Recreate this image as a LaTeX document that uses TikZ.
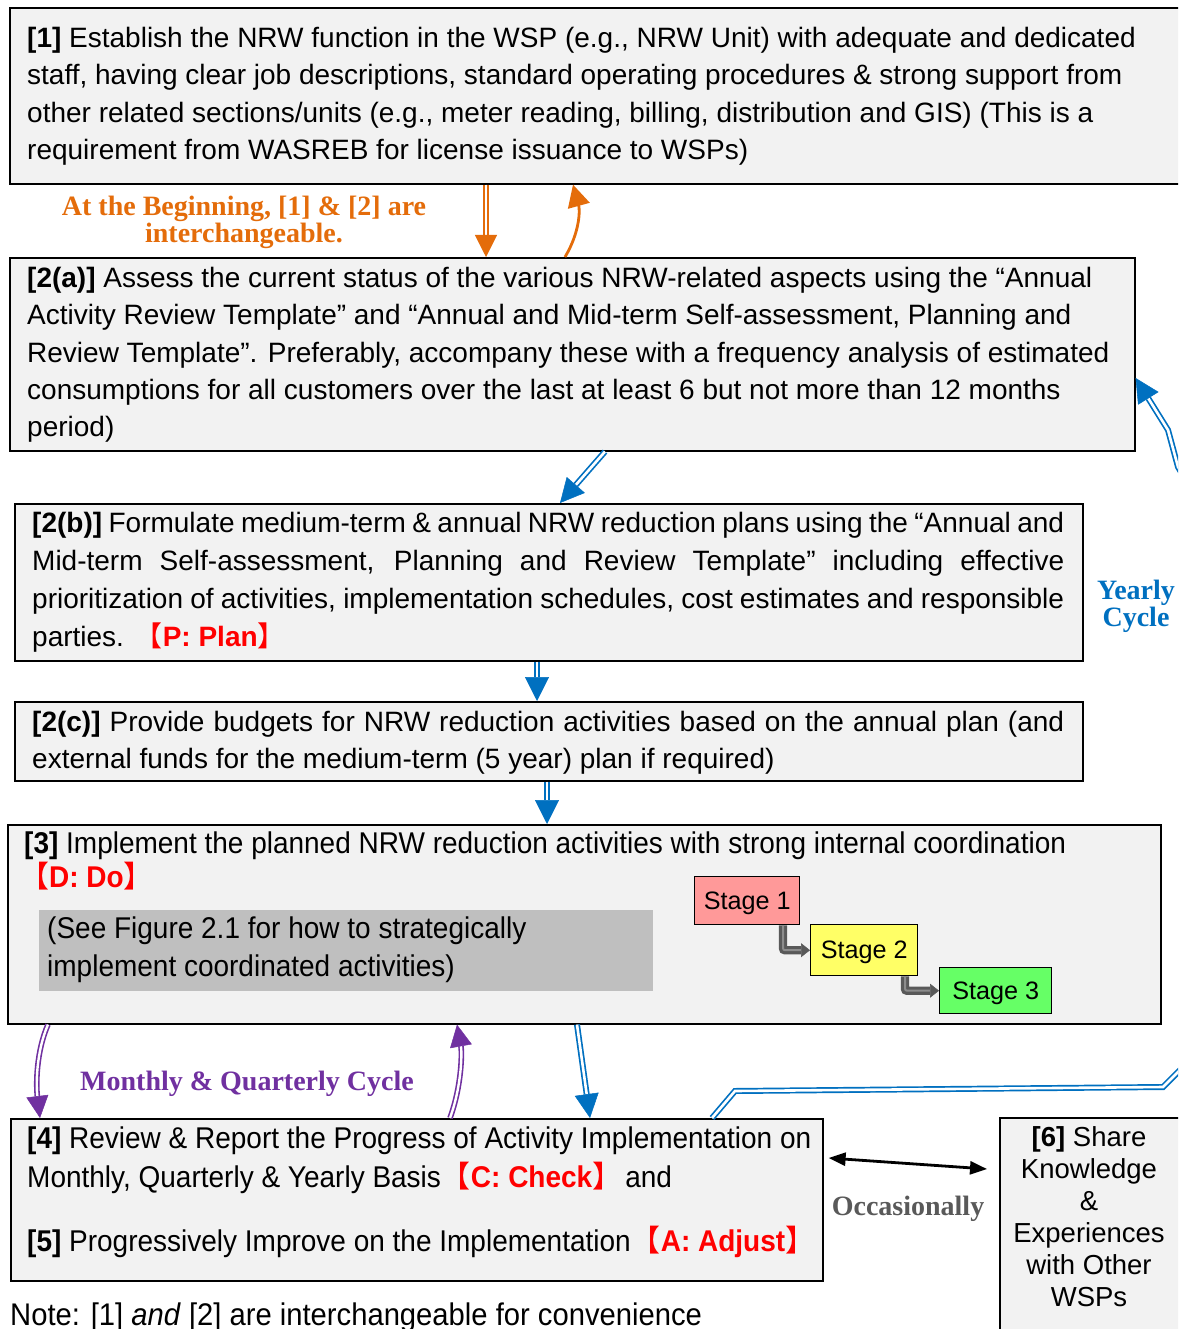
\documentclass[tikz,border=0pt]{standalone}
\usepackage{fontspec}
\setmainfont{Liberation Sans}
\newfontfamily\narrowsans{Liberation Sans}[FakeStretch=0.933]
\newfontfamily\labelserif{Liberation Serif}
\newfontfamily\cjk{Noto Sans CJK SC}
\usetikzlibrary{arrows.meta}

\definecolor{boxfill}{HTML}{F2F2F2}
\definecolor{notefill}{HTML}{BFBFBF}
\definecolor{phasered}{HTML}{FF0000}
\definecolor{flowblue}{HTML}{0070C0}
\definecolor{startorange}{HTML}{E46C0A}
\definecolor{cyclepurple}{HTML}{7030A0}
\definecolor{darkgrey}{HTML}{595959}
\definecolor{midgrey}{HTML}{8C8C8C}
\definecolor{stagepink}{HTML}{FF9999}
\definecolor{stageyellow}{HTML}{FFFF66}
\definecolor{stagegreen}{HTML}{66FF66}

% PDCA phase tag in red with full-width brackets
\newcommand\phase[1]{\textcolor{phasered}{{\cjk 【}\textbf{#1}{\cjk 】}}}
% a block of lines with a fixed pitch; baseline is the first line
\newcommand\linestack[2]{\vtop{\baselineskip=#1\relax\lineskiplimit=-1000pt\relax\lineskip=0pt\relax #2}}
\newcommand\jline[2]{\hbox to #1{#2}}

\begin{document}
\begin{tikzpicture}[x=1pt,y=-1pt,
  stepbox/.style={draw=black, line width=1.6pt, fill=boxfill, anchor=north west, inner sep=0pt},
  stagebox/.style={draw=black, line width=1.4pt, anchor=north west, inner sep=0pt,
    text height=23pt, text depth=5.5pt, font=\fontsize{25.2}{30}\selectfont},
  txt/.style={anchor=base west, inner sep=0pt, font=\fontsize{28}{32}\selectfont},
  narrowtxt/.style={anchor=base west, inner sep=0pt, font=\fontsize{30}{34}\selectfont\narrowsans},
  lbl/.style={inner sep=0pt, align=center, font=\fontsize{28}{27}\selectfont\labelserif\bfseries},
  dbl/.style={draw=#1, line width=1.7pt, double=white, double distance=2.6pt,
    -{Triangle[length=24pt,width=24pt,fill=#1,line width=0.5pt]}},
  dblsmall/.style={draw=#1, line width=1.6pt, double=white, double distance=2.4pt,
    -{Triangle[length=22pt,width=22pt,fill=#1,line width=0.5pt]}},
  stagearrow/.style={draw=darkgrey, line width=3.2pt, double=midgrey, double distance=2pt,
    rounded corners=2pt, -{Triangle[length=9pt,width=14pt,fill=darkgrey,line width=0.5pt]}}
]
\useasboundingbox (0,0) rectangle (1178,1329);
\clip (0,0) rectangle (1178,1329);
\fill[white] (0,0) rectangle (1178,1329);

% ---- step boxes ----
\node[stepbox, minimum width=1200pt, minimum height=176pt] (b1) at (9,7) {};
\node[stepbox, minimum width=1125pt, minimum height=193pt] (b2a) at (9,257) {};
\node[stepbox, minimum width=1068pt, minimum height=157pt] (b2b) at (14,503) {};
\node[stepbox, minimum width=1068pt, minimum height=79pt] (b2c) at (14,701) {};
\node[stepbox, minimum width=1153pt, minimum height=199pt] (b3) at (7,824) {};
\node[fill=notefill, anchor=north west, inner sep=0pt, minimum width=614pt, minimum height=81pt] (gray) at (39,910) {};
\node[stepbox, minimum width=812pt, minimum height=162pt] (b4) at (10,1118) {};
\node[stepbox, minimum width=220pt, minimum height=240pt] (b6) at (999,1117) {};

% ---- box texts ----
\node[txt] (t1) at (27,47.5) {\linestack{37.3pt}{%
  \hbox{\textbf{[1]} Establish the NRW function in the WSP (e.g., NRW Unit) with adequate and dedicated}
  \hbox{staff, having clear job descriptions, standard operating procedures \& strong support from}
  \hbox{other related sections/units (e.g., meter reading, billing, distribution and GIS) (This is a}
  \hbox{requirement from WASREB for license issuance to WSPs)}}};

\node[txt] (t2a) at (27,287.5) {\linestack{37.3pt}{%
  \hbox{\textbf{[2(a)]} Assess the current status of the various NRW-related aspects using the “Annual}
  \hbox{Activity Review Template” and “Annual and Mid-term Self-assessment, Planning and}
  \hbox{Review Template”. Preferably, accompany these with a frequency analysis of estimated}
  \hbox{consumptions for all customers over the last at least 6 but not more than 12 months}
  \hbox{period)}}};

\node[txt] (t2b) at (32,532) {\linestack{38.3pt}{%
  \jline{1032pt}{\textbf{[2(b)]} Formulate medium-term \& annual NRW reduction plans using the “Annual and}
  \jline{1032pt}{Mid-term Self-assessment, Planning and Review Template” including effective}
  \jline{1032pt}{prioritization of activities, implementation schedules, cost estimates and responsible}
  \hbox{parties.\ \hspace{3pt}\phase{P: Plan}}}};

\node[txt] (t2c) at (32,731) {\linestack{37.3pt}{%
  \jline{1032pt}{\textbf{[2(c)]} Provide budgets for NRW reduction activities based on the annual plan (and}
  \hbox{external funds for the medium-term (5 year) plan if required)}}};

\node[narrowtxt] (t3) at (24,853) {\linestack{34pt}{%
  \hbox{\textbf{[3]} Implement the planned NRW reduction activities with strong internal coordination}
  \hbox{\hspace*{-5pt}\phase{D: Do}}}};
\node[narrowtxt] (tgray) at (47,938.5) {\linestack{37.5pt}{%
  \hbox{(See Figure 2.1 for how to strategically}
  \hbox{implement coordinated activities)}}};

\node[narrowtxt] (t4) at (27,1148) {\linestack{39pt}{%
  \hbox{\textbf{[4]} Review \& Report the Progress of Activity Implementation on}
  \hbox{Monthly, Quarterly \& Yearly Basis\phase{C: Check}\hspace{3pt}and}
  \vskip 25pt
  \hbox{\textbf{[5]} Progressively Improve on the Implementation\phase{A: Adjust}}}};

\node[anchor=north, inner sep=0pt, align=center, font=\fontsize{27.5}{32}\selectfont] (t6) at (1089,1126)
  {\textbf{[6]} Share\\Knowledge\\\&\\Experiences\\with Other\\WSPs};

\node[narrowtxt, font=\fontsize{31.3}{34}\selectfont\narrowsans] (note) at (10,1325)
  {Note: [1] \textit{and} [2] are interchangeable for convenience};

% ---- stages ----
\node[stagebox, fill=stagepink, minimum width=105pt, minimum height=48pt] (s1) at (694,876) {Stage 1};
\node[stagebox, fill=stageyellow, minimum width=107pt, minimum height=51pt] (s2) at (810,924) {Stage 2};
\node[stagebox, fill=stagegreen, minimum width=112pt, minimum height=46pt] (s3) at (939,967) {Stage 3};
\coordinate (k1) at (783,0);
\coordinate (k2) at (905,0);
\draw[stagearrow] (s1.south -| k1) |- (s2.west);
\draw[stagearrow] (s2.south -| k2) |- (s3.west);

% ---- labels ----
\node[lbl, text=startorange] (lstart) at (244,222) {At the Beginning, [1] \& [2] are\\interchangeable.};
\node[lbl, text=flowblue] (lyear) at (1136,606) {Yearly\\Cycle};
\node[lbl, text=cyclepurple] (lmonth) at (247,1084) {Monthly \& Quarterly Cycle};
\node[lbl, text=darkgrey] (locc) at (908,1209) {Occasionally};

% ---- connectors ----
\coordinate (xo1) at (486,0);
\coordinate (xo2a) at (565,0);
\coordinate (xo2b) at (573,0);
\draw[dblsmall=startorange] (b1.south -| xo1) -- (b2a.north -| xo1);
\draw[draw=startorange, line width=2.8pt, -{Triangle[length=22pt,width=22pt]}]
  (b2a.north -| xo2a) .. controls (580,232) and (580,210) .. (b1.south -| xo2b);

\coordinate (xa) at (605,0);
\coordinate (xb) at (560,0);
\draw[dbl=flowblue] (b2a.south -| xa) -- (b2b.north -| xb);
\coordinate (xc) at (537,0);
\draw[dbl=flowblue] (b2b.south -| xc) -- (b2c.north -| xc);
\coordinate (xd) at (547,0);
\draw[dbl=flowblue] (b2c.south -| xd) -- (b3.north -| xd);
\coordinate (xe) at (577,0);
\coordinate (xf) at (590,0);
\draw[dbl=flowblue] (b3.south -| xe) -- (b4.north -| xf);

% yearly loop back from [4] to [2(a)]
\coordinate (xg) at (712,0);
\coordinate (yh) at (0,378);
\draw[dbl=flowblue] (b4.north -| xg) -- (735,1091) -- (1163,1087) -- (1188,1062)
  -- (1198,1040) -- (1198,500) -- (1178,467) -- (1168,430) -- (b2a.east |- yh);

% monthly and quarterly loop between [3] and [4]
\coordinate (xm1) at (48,0);
\coordinate (xm2) at (40,0);
\coordinate (xm3) at (450,0);
\coordinate (xm4) at (457,0);
\draw[dblsmall=cyclepurple] (b3.south -| xm1) .. controls (36,1052) and (36,1085) .. (b4.north -| xm2);
\draw[dblsmall=cyclepurple] (b4.north -| xm3) .. controls (462,1085) and (462,1052) .. (b3.south -| xm4);

% occasional exchange between [4] and [6]
\coordinate (ya) at (0,1158);
\coordinate (yb) at (0,1169);
\draw[line width=2.8pt, {Triangle[length=17pt,width=13pt]}-{Triangle[length=17pt,width=13pt]}]
  ([xshift=5pt]b4.east |- ya) -- ([xshift=-12pt]b6.west |- yb);
\end{tikzpicture}
\end{document}
